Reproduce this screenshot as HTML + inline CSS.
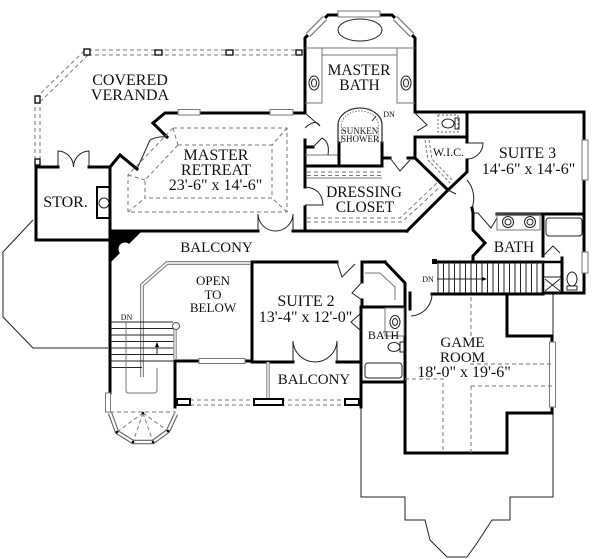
<!DOCTYPE html>
<html><head><meta charset="utf-8"><style>
html,body{margin:0;padding:0;background:#fff;}
svg{display:block;}
.w{stroke:#000;stroke-width:3;fill:none;stroke-linecap:square;stroke-linejoin:miter;}
.t{stroke:#222;stroke-width:1;fill:none;}
.g{stroke:#777;stroke-width:1;fill:none;}
.d{stroke:#777;stroke-width:1;fill:none;stroke-dasharray:4 3;}
.win{fill:#fff;stroke:#777;stroke-width:1;}
text{font-family:"Liberation Serif",serif;fill:#111;text-anchor:middle;}
</style></head><body>
<svg width="600" height="559" viewBox="0 0 600 559" xmlns="http://www.w3.org/2000/svg">
<rect width="600" height="559" fill="#fff"/>

<!-- roof outlines (thin) -->
<polyline class="t" points="33,220 3,252 3,317 33,348 108,348"/>
<polyline class="t" points="361,407 361,497 405,497 405,520 425,520 430,540 447,557 467,557 477,543 492,520 510,520 510,497 553,497 553,413"/>
<line class="t" x1="553" y1="294" x2="553" y2="336"/>

<!-- veranda railing -->
<g stroke="#777" stroke-width="1" stroke-dasharray="4 3" fill="none">
<line x1="88" y1="50" x2="298" y2="50"/><line x1="88" y1="55" x2="298" y2="55"/>
<line x1="84" y1="51" x2="37" y2="97"/><line x1="88" y1="55" x2="41" y2="101"/>
<line x1="35" y1="100" x2="35" y2="160"/><line x1="40" y1="100" x2="40" y2="160"/>
</g>
<rect x="84" y="49" width="6" height="6" fill="#fff" stroke="#000" stroke-width="1.3"/>
<rect x="35" y="96" width="5" height="7" fill="#fff" stroke="#000" stroke-width="1.3"/>
<rect x="155" y="50" width="7" height="5" fill="#fff" stroke="#000" stroke-width="1.3"/>
<rect x="226" y="50" width="7" height="5" fill="#fff" stroke="#000" stroke-width="1.3"/>
<rect x="296" y="50" width="6" height="5" fill="#fff" stroke="#000" stroke-width="1.3"/>
<rect x="35" y="159" width="5" height="6" fill="#fff" stroke="#000" stroke-width="1.3"/>

<!-- STOR -->
<polyline class="w" points="58,167 36,167 36,240 110,240"/>
<line class="w" x1="89" y1="167" x2="110" y2="167"/>
<path class="t" d="M58,167 V151 A16,16 0 0 1 73.5,167 M89,167 V151 A16,16 0 0 0 73.5,167"/>
<rect x="97" y="187" width="13" height="31" fill="#fff" stroke="#000" stroke-width="2"/>
<circle cx="104" cy="203" r="5" class="t"/>

<!-- left main wall -->
<line class="w" x1="110" y1="167" x2="110" y2="393"/>
<polygon points="110,232 141,232 110,263" fill="#000"/>
<circle cx="125" cy="249" r="6.5" fill="#fff"/>

<!-- Master retreat walls -->
<polyline class="w" points="110,167 120,155"/>
<line class="w" x1="120" y1="155" x2="137" y2="169"/>
<line class="w" x1="153" y1="123" x2="167" y2="137"/>
<path class="t" d="M137,169 L150,140 M150,140 A30,30 0 0 1 167,137"/>
<polyline class="w" points="153,123 165,113 305,113"/>
<rect class="win" x="178" y="109.5" width="22" height="5.5"/>
<rect class="win" x="270" y="109.5" width="23" height="5.5"/>
<line class="w" x1="110" y1="231" x2="258" y2="231"/>
<line class="w" x1="293" y1="231" x2="407" y2="231"/>
<path class="t" d="M258,231 V214 A17.5,17.5 0 0 0 275.5,231 M293,231 V214 A17.5,17.5 0 0 1 275.5,231"/>
<!-- tray ceiling -->
<path class="d" d="M173,128 H287 V212 H128 V175 Z"/>
<path class="d" d="M178,145 H272 V198 H145 V180 Z"/>
<path class="d" d="M287,128 L272,145 M287,212 L272,198 M128,212 L145,198 M128,175 L145,180 M173,128 L178,145"/>

<!-- Master bath -->
<polyline class="w" points="305,113 305,38 328,15 392,15 415,38 415,112"/>
<rect class="win" x="338" y="11" width="42" height="6"/>
<line x1="308" y1="35" x2="325" y2="18" stroke="#777" stroke-width="6"/>
<line x1="308" y1="35" x2="325" y2="18" stroke="#fff" stroke-width="3.5"/>
<line x1="395" y1="18" x2="412" y2="35" stroke="#777" stroke-width="6"/>
<line x1="395" y1="18" x2="412" y2="35" stroke="#fff" stroke-width="3.5"/>
<ellipse cx="360" cy="30" rx="22" ry="11" class="t"/>
<path class="g" d="M305,48 H415 M322,48 V103 H305 M397,48 V103 H415 M322,55 H397"/>
<ellipse cx="314" cy="83" rx="5" ry="7" class="t"/><ellipse cx="314" cy="83" rx="2.5" ry="4" class="t"/>
<ellipse cx="406" cy="83" rx="5" ry="7" class="t"/><ellipse cx="406" cy="83" rx="2.5" ry="4" class="t"/>
<line class="w" x1="305" y1="140" x2="305" y2="187"/>
<line class="w" x1="305" y1="207" x2="305" y2="231"/>
<path class="t" d="M305,113 L320,126 M305,128 Q316,118 320,126"/>
<path class="t" d="M305,187 Q322,188 323,205 L305,205"/>
<path class="w" d="M305,147 H313"/>
<line class="g" x1="305" y1="155" x2="338" y2="155"/>
<path class="t" d="M313,147 L322,138 Q330,142 328,155"/>
<line class="w" x1="339" y1="143" x2="339" y2="166"/>
<line class="w" x1="382" y1="143" x2="382" y2="166"/>
<line class="w" x1="305" y1="166" x2="382" y2="166"/>
<path d="M338,143 V125 A22,17 0 0 1 382,125 V143" fill="none" stroke="#333" stroke-width="1.3"/>
<path d="M341.5,143 V125 A18.5,14 0 0 1 378.5,125 V143" fill="none" stroke="#777" stroke-width="1" stroke-dasharray="1.5 1.5"/>
<path class="t" d="M376,116 L372,121"/>
<line class="w" x1="382" y1="158" x2="390" y2="158"/>
<path class="t" d="M390,158 L400,171 L410,160"/>
<line class="w" x1="408" y1="158" x2="415" y2="158"/>
<line class="w" x1="415" y1="137" x2="415" y2="158"/>
<path class="t" d="M415,113 L427,125 L417,131"/>
<!-- toilet room -->
<line class="w" x1="415" y1="112" x2="584" y2="112"/>
<line class="w" x1="415" y1="137" x2="467" y2="137"/>
<rect x="438" y="115" width="20" height="17" fill="none" stroke="#666" stroke-dasharray="2 2"/>
<ellipse cx="448" cy="123.5" rx="6" ry="4.5" class="t"/>
<rect x="455" y="118" width="4" height="11" class="t"/>
<!-- WIC -->
<line class="w" x1="467" y1="112" x2="467" y2="142"/>
<path class="t" d="M467,143 H483 A16,16 0 0 1 467,159"/>
<polyline class="w" points="467,160 467,172 448,190"/>
<polyline class="w" points="415,158 448,190 407,231"/>
<path class="g" d="M425,140 L428,160 L450,183 M429,140 L432,159 L452,180" stroke-dasharray="3 2"/>
<!-- dressing closet dashed -->
<path class="d" d="M307,172 H382 M307,175.5 H382"/>
<line class="g" x1="307" y1="178" x2="382" y2="178"/>
<path class="d" d="M307,218 H400 L437,183 M307,222 H402 L440,187"/>

<!-- Suite 3 -->
<line class="w" x1="584" y1="112" x2="584" y2="293"/>
<rect class="win" x="582" y="140" width="6" height="40"/>
<rect class="win" x="582" y="252" width="6" height="21"/>
<path class="t" d="M448,190 L456,194 M467,180 A28,28 0 0 1 472,208"/>
<polyline class="w" points="472,208 473,213 473,230 485,243 473,256 473,262"/>
<path class="t" d="M473,213 H478 L491,228 L497,218"/>
<line class="w" x1="497" y1="214" x2="584" y2="214"/>
<rect x="497" y="214" width="43" height="16" class="g"/>
<circle cx="508" cy="222" r="5.5" class="t"/><circle cx="508" cy="222" r="3" class="t"/>
<circle cx="530" cy="222" r="5.5" class="t"/><circle cx="530" cy="222" r="3" class="t"/>
<rect x="546" y="218" width="36" height="18" rx="3" class="t"/>
<line class="w" x1="543" y1="214" x2="543" y2="256"/>
<path class="t" d="M543,256 L553,246 L560,253"/>
<rect x="543" y="262" width="19" height="31" fill="none" stroke="#000" stroke-width="2.5"/>
<line class="t" x1="543" y1="277" x2="562" y2="277"/>
<path class="t" d="M545,279 L560,291 M560,279 L545,291"/>
<line class="w" x1="562" y1="258" x2="562" y2="293"/>
<line class="w" x1="543" y1="293" x2="584" y2="293"/>
<ellipse cx="572" cy="279" rx="5" ry="7" class="t"/>
<rect x="567" y="286" width="10" height="4" class="t"/>

<!-- right stairs -->
<line class="w" x1="435" y1="262" x2="543" y2="262"/>
<rect x="432" y="259" width="5" height="5" fill="#000"/>
<g class="t">
<line x1="438" y1="262" x2="438" y2="293"/><line x1="443.5" y1="262" x2="443.5" y2="293"/><line x1="449" y1="262" x2="449" y2="293"/><line x1="454.5" y1="262" x2="454.5" y2="293"/><line x1="460" y1="262" x2="460" y2="293"/><line x1="465.5" y1="262" x2="465.5" y2="293"/><line x1="471" y1="262" x2="471" y2="293"/><line x1="476.5" y1="262" x2="476.5" y2="293"/><line x1="482" y1="262" x2="482" y2="293"/><line x1="487.5" y1="262" x2="487.5" y2="293"/><line x1="493" y1="262" x2="493" y2="293"/><line x1="498.5" y1="262" x2="498.5" y2="293"/><line x1="504" y1="262" x2="504" y2="293"/><line x1="509.5" y1="262" x2="509.5" y2="293"/><line x1="515" y1="262" x2="515" y2="293"/><line x1="520.5" y1="262" x2="520.5" y2="293"/><line x1="526" y1="262" x2="526" y2="293"/><line x1="531.5" y1="262" x2="531.5" y2="293"/><line x1="537" y1="262" x2="537" y2="293"/><line x1="542.5" y1="262" x2="542.5" y2="293"/>
<line x1="437" y1="279" x2="484" y2="279"/>
</g>
<polygon points="482,277 482,281 487,279" fill="#000"/>

<!-- Game room -->
<polyline class="w" points="385,262 405,283 405,453 507,453 507,413 552,413 552,336 507,336 507,294"/>
<line class="w" x1="432" y1="294" x2="543" y2="294"/>
<line class="w" x1="410" y1="293" x2="410" y2="309"/>
<path class="t" d="M432,294 A22,22 0 0 1 411,316"/>
<rect class="win" x="549.5" y="342" width="6" height="65"/>
<path class="d" d="M471,297 V337 M471,386 V453 M470,364 H552 M471,386 H552 M405,379 H443 V453"/>

<!-- Suite 2 -->
<polyline class="w" points="337,262 252,262 252,362 293,362"/>
<line class="w" x1="337" y1="362" x2="361" y2="362"/>
<path class="t" d="M337,262 L342,277 L355,264"/>
<polyline class="w" points="362,262 383,262 385,262"/>
<polyline class="w" points="362,262 362,282"/>
<path class="t" d="M362,282 L352,293 L362,300"/>
<line class="w" x1="362" y1="300" x2="362" y2="307"/>
<line class="w" x1="362" y1="307" x2="405" y2="307"/>
<path class="g" d="M365,273 H380 L395,287 V300"/>
<path class="t" d="M293,362 V341 A22,22 0 0 0 315,362 M337,362 V341 A22,22 0 0 1 315,362"/>
<!-- suite 2 bath -->
<line class="w" x1="361" y1="307" x2="361" y2="407"/>
<path class="t" d="M361,313 L351,322 L361,331"/>
<line class="w" x1="361" y1="382" x2="405" y2="382"/>
<rect x="385" y="308" width="19" height="28" class="g"/>
<ellipse cx="395" cy="322" rx="5" ry="6.5" class="t"/><ellipse cx="395" cy="322" rx="2.5" ry="3.5" class="t"/>
<ellipse cx="394" cy="347" rx="6" ry="4.5" class="t"/>
<rect x="400" y="342" width="4" height="10" class="t"/>
<rect x="365" y="363" width="37" height="15" rx="3" class="t"/>

<!-- Open to below / handrail -->
<polyline points="142,377 142,285 167,263 250,263" fill="none" stroke="#888" stroke-width="4"/>
<polyline points="142,377 142,285 167,263 250,263" fill="none" stroke="#fff" stroke-width="1.6"/>
<line class="w" x1="252" y1="262" x2="252" y2="362"/>
<line class="w" x1="175" y1="361" x2="252" y2="361"/>
<rect class="win" x="199" y="358.5" width="46" height="5"/>
<line class="w" x1="175" y1="361" x2="175" y2="407"/>

<!-- left stairs -->
<g class="t">
<line x1="110" y1="322" x2="173" y2="322"/><line x1="110" y1="328.5" x2="175" y2="328.5"/><line x1="110" y1="335" x2="175" y2="335"/><line x1="110" y1="341.5" x2="175" y2="341.5"/><line x1="110" y1="348" x2="175" y2="348"/><line x1="110" y1="354.5" x2="175" y2="354.5"/><line x1="110" y1="361" x2="175" y2="361"/><line x1="110" y1="367.5" x2="142" y2="367.5"/>
</g>
<path class="g" d="M126,322 V390 Q126,393 129,393 H154 Q157,393 157,390 V368"/>
<line class="t" x1="157" y1="355" x2="157" y2="345"/>
<polygon points="155,347 159,347 157,342" fill="#000"/>
<line x1="175" y1="327" x2="175" y2="359" stroke="#888" stroke-width="3.5"/>
<line x1="175" y1="327" x2="175" y2="359" stroke="#fff" stroke-width="1.2"/>
<circle cx="176" cy="326" r="3.5" fill="#fff" stroke="#555" stroke-width="1"/>

<!-- stair tower bay -->
<rect class="win" x="105.5" y="393" width="5" height="19"/>
<line class="d" x1="110" y1="412" x2="176" y2="412"/>
<polyline points="110,413 117,432 133,442 153,442 168,431 176,414" fill="none" stroke="#666" stroke-width="4.5"/>
<polyline points="110,413 117,432 133,442 153,442 168,431 176,414" fill="none" stroke="#fff" stroke-width="2.2"/>
<g class="d" stroke-dasharray="3 2">
<line x1="143" y1="413" x2="117" y2="432"/><line x1="143" y1="413" x2="133" y2="442"/><line x1="143" y1="413" x2="153" y2="442"/><line x1="143" y1="413" x2="168" y2="431"/>
</g>
<g fill="#000"><circle cx="117" cy="432" r="1.3"/><circle cx="133" cy="442" r="1.3"/><circle cx="153" cy="442" r="1.3"/><circle cx="168" cy="431" r="1.3"/><circle cx="143" cy="413" r="1.3"/></g>

<!-- lower balcony -->
<path class="d" d="M190,400 H345 M190,405 H345"/>
<line x1="268" y1="362" x2="268" y2="399" stroke="#888" stroke-width="3.5"/>
<line x1="268" y1="362" x2="268" y2="399" stroke="#fff" stroke-width="1.3"/>
<rect x="177" y="399" width="13" height="6" fill="#fff" stroke="#000" stroke-width="2"/>
<rect x="254" y="399" width="29" height="6" fill="#fff" stroke="#000" stroke-width="2"/>
<rect x="345" y="399" width="14" height="6" fill="#fff" stroke="#000" stroke-width="2"/>

<!-- labels -->
<text x="130" y="85" font-size="16">COVERED</text>
<text x="130" y="100" font-size="16">VERANDA</text>
<text x="216" y="160" font-size="16">MASTER</text>
<text x="216" y="175" font-size="16">RETREAT</text>
<text x="215.5" y="190" font-size="16">23'-6" x 14'-6"</text>
<text x="65.5" y="207" font-size="16">STOR.</text>
<text x="216.5" y="252" font-size="15">BALCONY</text>
<text x="359" y="75" font-size="15.5">MASTER</text>
<text x="359.5" y="90" font-size="15.5">BATH</text>
<text x="360" y="134" font-size="9">SUNKEN</text>
<text x="360" y="142" font-size="9">SHOWER</text>
<text x="389" y="117" font-size="8">DN</text>
<text x="364" y="197" font-size="15.5">DRESSING</text>
<text x="365" y="212" font-size="15.5">CLOSET</text>
<text x="448.5" y="156" font-size="12">W.I.C.</text>
<text x="527.5" y="158" font-size="16">SUITE 3</text>
<text x="528.5" y="174" font-size="16">14'-6" x 14'-6"</text>
<text x="514" y="252" font-size="15.5">BATH</text>
<text x="428" y="282" font-size="8">DN</text>
<text x="213" y="285" font-size="13">OPEN</text>
<text x="213" y="299" font-size="13">TO</text>
<text x="213" y="312" font-size="13">BELOW</text>
<text x="126.5" y="320" font-size="8">DN</text>
<text x="306" y="306" font-size="16">SUITE 2</text>
<text x="305.5" y="322" font-size="16">13'-4" x 12'-0"</text>
<text x="314" y="384" font-size="15">BALCONY</text>
<text x="383.5" y="339" font-size="12">BATH</text>
<text x="462.5" y="347" font-size="15">GAME</text>
<text x="462.5" y="362" font-size="15">ROOM</text>
<text x="464" y="377" font-size="16">18'-0" x 19'-6"</text>
</svg>
</body></html>
